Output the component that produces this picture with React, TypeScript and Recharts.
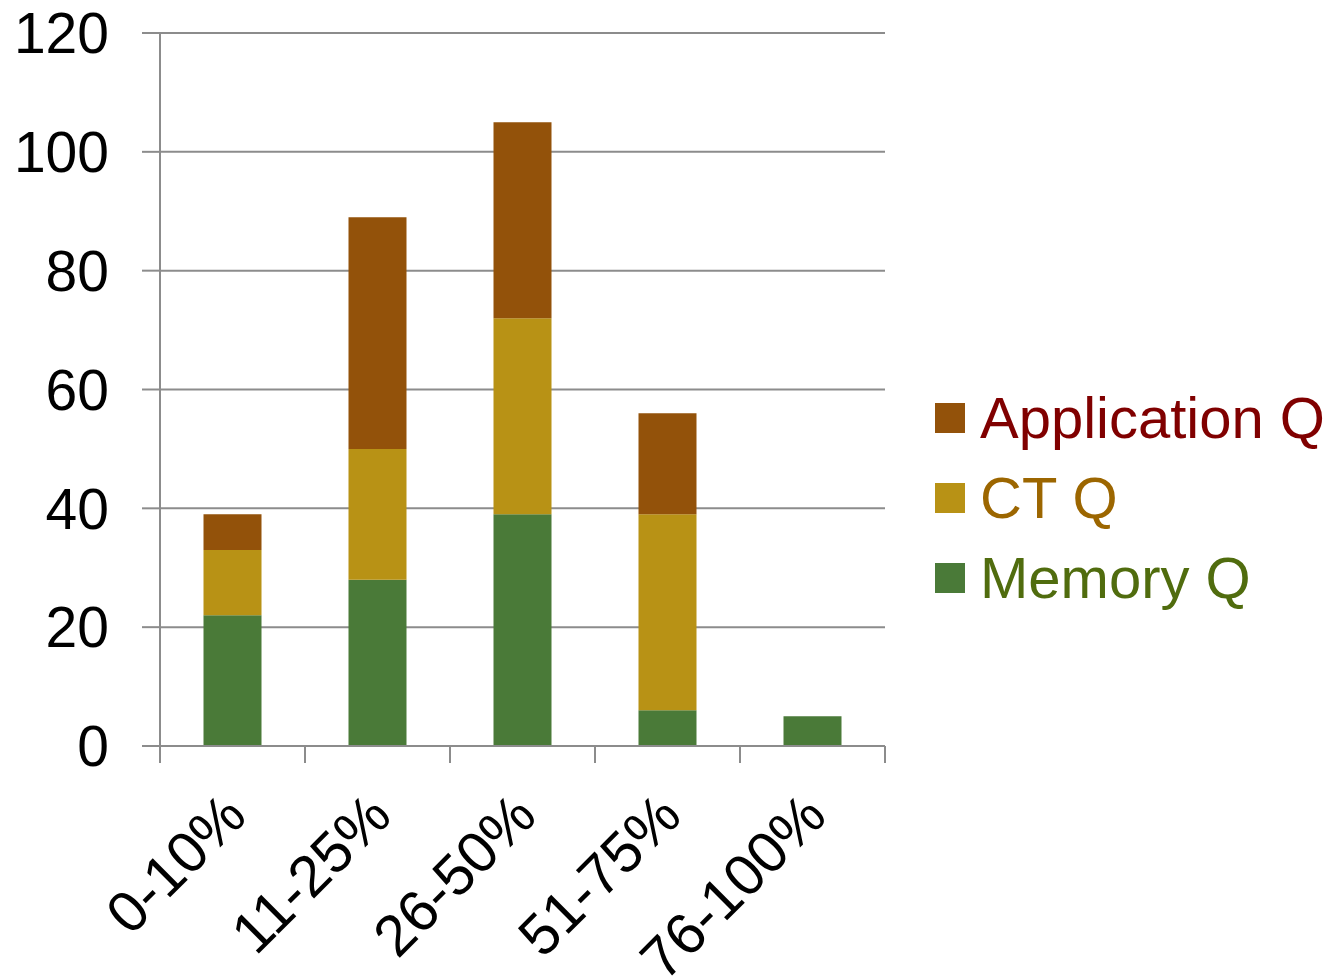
import { BarChart, Bar, XAxis, YAxis, CartesianGrid } from 'recharts'

const categories = ['0-10%', '11-25%', '26-50%', '51-75%', '76-100%']
const memoryQ = [22, 28, 39, 6, 5]
const ctQ = [11, 22, 33, 33, 0]
const applicationQ = [6, 39, 33, 17, 0]
const yTicks = [0, 20, 40, 60, 80, 100, 120]

const series = [
  { key: 'memory', name: 'Memory Q', fill: '#4a7a38', text: '#506c0e' },
  { key: 'ct', name: 'CT Q', fill: '#b89215', text: '#9c6600' },
  { key: 'app', name: 'Application Q', fill: '#93520a', text: '#800000' },
]

const data = categories.map((c, i) => ({
  category: c,
  memory: memoryQ[i],
  ct: ctQ[i],
  app: applicationQ[i],
}))

const FONT = '"Liberation Sans", Arial, sans-serif'
const GREY = '#8c8c8c'
const PLOT_W = 725
const TICK_LEN = 17
const LABEL_GAP = 41

function CategoryTick({ x, y, payload, index }: any) {
  const half = PLOT_W / categories.length / 2
  const y0 = y - LABEL_GAP - TICK_LEN
  const y1 = y - LABEL_GAP
  const lx = x + 2
  return (
    <g>
      <line x1={x - half} x2={x - half} y1={y0} y2={y1} stroke={GREY} strokeWidth={2} />
      {index === categories.length - 1 && (
        <line x1={x + half} x2={x + half} y1={y0} y2={y1} stroke={GREY} strokeWidth={2} />
      )}
      <text
        x={lx}
        y={y}
        transform={`rotate(-45, ${lx}, ${y})`}
        textAnchor="end"
        dominantBaseline="central"
        fontSize={58}
        fontFamily={FONT}
        fill="#000"
      >
        {payload.value}
      </text>
    </g>
  )
}

export default function App() {
  return (
    <div style={{ position: 'absolute', left: 0, top: 0, width: 1344, height: 978, background: '#fff' }}>
      <BarChart
        width={1344}
        height={978}
        data={data}
        margin={{ top: 33, right: 459, bottom: 0, left: 0 }}
        barCategoryGap="30%"
      >
        <CartesianGrid horizontal vertical={false} stroke={GREY} strokeWidth={2} />
        <XAxis
          dataKey="category"
          height={232}
          axisLine={{ stroke: GREY, strokeWidth: 2 }}
          tickLine={false}
          tickSize={TICK_LEN}
          tickMargin={LABEL_GAP}
          interval={0}
          tick={<CategoryTick />}
        />
        <YAxis
          width={160}
          domain={[0, 120]}
          ticks={yTicks}
          axisLine={{ stroke: GREY, strokeWidth: 2 }}
          tickLine={{ stroke: GREY, strokeWidth: 2 }}
          tickSize={18}
          tickMargin={33}
          tick={{ fontSize: 57, fontFamily: FONT, fill: '#000' }}
        />
        {series.map((s) => (
          <Bar
            key={s.key}
            dataKey={s.key}
            name={s.name}
            stackId="q"
            fill={s.fill}
            isAnimationActive={false}
          />
        ))}
      </BarChart>
      <div style={{ position: 'absolute', left: 935, top: 378, fontFamily: FONT }}>
        {[...series].reverse().map((s) => (
          <div key={s.key} style={{ display: 'flex', alignItems: 'center', height: 80 }}>
            <div style={{ width: 30, height: 30, background: s.fill, marginRight: 15 }} />
            <span style={{ fontSize: 58, color: s.text, lineHeight: '80px' }}>{s.name}</span>
          </div>
        ))}
      </div>
    </div>
  )
}
